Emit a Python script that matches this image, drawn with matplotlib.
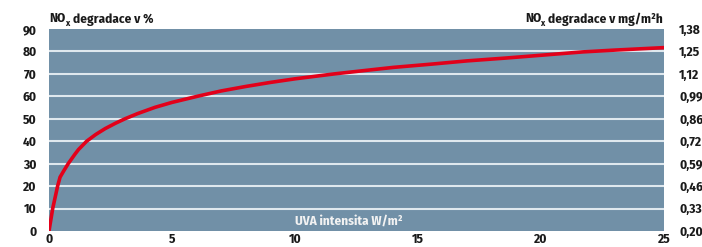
import matplotlib
matplotlib.use("Agg")
import matplotlib.pyplot as plt
from matplotlib import font_manager as fm

# ---- data ----
uva = [0, 0.15, 0.35, 0.45, 0.6, 0.78, 1.06, 1.2, 1.53, 1.9, 2.28, 2.7, 3.09, 3.6,
       4.31, 5, 6.1, 7, 8, 9, 10, 11.6, 13, 14, 15.5, 17, 18.5, 20, 21.7, 23, 25]
degradace = [0, 10, 20, 24, 26.8, 30, 34.3, 36.3, 40, 43, 45.6, 48, 50, 52.3,
             55.1, 57.3, 60.2, 62.4, 64.4, 66.2, 67.8, 70, 71.7, 72.9, 74.3, 75.8,
             77, 78.3, 79.8, 80.6, 81.7]
x_ticks = [0, 5, 10, 15, 20, 25]
y_ticks = [0, 10, 20, 30, 40, 50, 60, 70, 80, 90]
right_labels = ["0,20", "0,33", "0,46", "0,59", "0,72", "0,86", "0,99", "1,12", "1,25", "1,38"]

names = {f.name for f in fm.fontManager.ttflist}
fam = "DejaVu Sans"
for cand in ["Fira Sans Condensed", "Asap Condensed", "Barlow Condensed", "Archivo Narrow"]:
    if cand in names:
        fam = cand
        break
W = "bold"
plt.rcParams["font.family"] = [fam, "DejaVu Sans"]
plt.rcParams["font.weight"] = W

txtc = "#1a1a1a"
fig = plt.figure(figsize=(7.02, 2.47), dpi=100)
ax = fig.add_axes([49/702, 16/247, (664-49)/702, (231-29)/247])
bg = "#7190a7"
ax.set_facecolor(bg)
ax.set_xlim(0, 25)
ax.set_ylim(0, 90)
for v in y_ticks[1:-1]:
    ax.axhline(v, color="#dfe8ee", lw=1.5, zorder=1)
ax.plot(uva, degradace, color="#e2001a", lw=2.6, zorder=3, solid_joinstyle="round")
for s in ax.spines.values():
    s.set_visible(False)
ax.set_xticks(x_ticks)
ax.set_yticks(y_ticks)
ax.tick_params(length=0, labelsize=9.5, colors=txtc)
ax.tick_params(axis="y", pad=9)
ax.tick_params(axis="x", pad=1.5)
for lab in ax.get_xticklabels() + ax.get_yticklabels():
    lab.set_fontweight(W)

ax2 = ax.twinx()
ax2.set_ylim(0, 90)
ax2.set_yticks(y_ticks)
ax2.set_yticklabels(right_labels)
for s in ax2.spines.values():
    s.set_visible(False)
ax2.tick_params(length=0, labelsize=9.5, colors=txtc, pad=11)
for lab in ax2.get_yticklabels():
    lab.set_fontweight(W)

fig.canvas.draw()
r = fig.canvas.get_renderer()
base = 1 - 22.5/247
fs = 9.5
P = 1/702

# left title
t_no = fig.text(49*P, base, "NO", fontsize=fs, fontweight=W, color=txtc, ha="left", va="baseline")
bb = t_no.get_window_extent(r)
t_x = fig.text(bb.x1*P - 0.5*P, base - 3/247, "x", fontsize=6.5, fontweight=W, color=txtc,
               ha="left", va="baseline")
bbx = t_x.get_window_extent(r)
fig.text(bbx.x1*P + 3.5*P, base, "degradace v %", fontsize=fs, fontweight=W, color=txtc,
         ha="left", va="baseline")

# right title
t_rest = fig.text(663*P, base, "degradace v mg/m²h", fontsize=fs, fontweight=W, color=txtc,
                  ha="right", va="baseline")
bb = t_rest.get_window_extent(r)
t_x2 = fig.text(bb.x0*P - 3.5*P, base - 3/247, "x", fontsize=6.5, fontweight=W, color=txtc,
                ha="right", va="baseline")
bbx = t_x2.get_window_extent(r)
fig.text(bbx.x0*P + 0.5*P, base, "NO", fontsize=fs, fontweight=W, color=txtc,
         ha="right", va="baseline")

ax.text(12.2, 4.3, "UVA intensita W/m²", color="#f2f2f2", fontsize=9.5,
        fontweight=W, ha="center", va="center", zorder=4)

fig.savefig("out.png", dpi=100)
